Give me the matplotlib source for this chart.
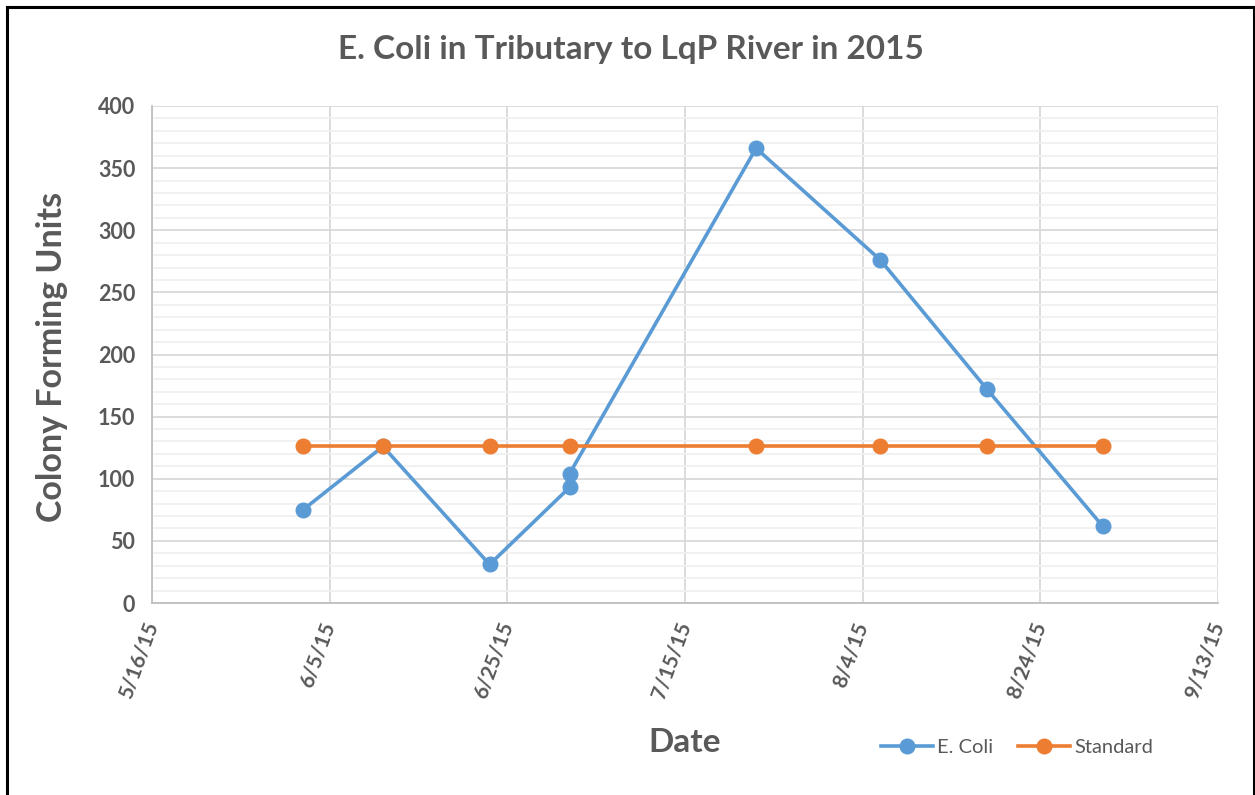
import matplotlib
matplotlib.use("Agg")
import matplotlib.pyplot as plt
from matplotlib.lines import Line2D
from matplotlib.ticker import MultipleLocator
import datetime as dt

# Sampling dates and measurements
sample_dates = ["2015-06-02", "2015-06-11", "2015-06-23", "2015-07-02", "2015-07-02",
                "2015-07-23", "2015-08-06", "2015-08-18", "2015-08-31"]
ecoli_cfu = [75, 126, 31, 93, 104, 366, 276, 172, 62]

standard_dates = ["2015-06-02", "2015-06-11", "2015-06-23", "2015-07-02",
                  "2015-07-23", "2015-08-06", "2015-08-18", "2015-08-31"]
standard_cfu = [126, 126, 126, 126, 126, 126, 126, 126]

tick_dates = ["2015-05-16", "2015-06-05", "2015-06-25", "2015-07-15",
              "2015-08-04", "2015-08-24", "2015-09-13"]
tick_labels = ["5/16/15", "6/5/15", "6/25/15", "7/15/15", "8/4/15", "8/24/15", "9/13/15"]

def to_dt(s):
    return dt.datetime.strptime(s, "%Y-%m-%d")

ecoli_x = [to_dt(d) for d in sample_dates]
std_x = [to_dt(d) for d in standard_dates]
ticks_x = [to_dt(d) for d in tick_dates]

plt.rcParams["font.family"] = ["Lato", "DejaVu Sans"]
TEXT = "#595959"
BLUE = "#5B9BD5"
ORANGE = "#ED7D31"

fig = plt.figure(figsize=(12.55, 7.95), dpi=100)
ax = fig.add_axes([152 / 1255, 1 - 603 / 795, (1218 - 152) / 1255, (603 - 106) / 795])

# Outer chart frame
fig.add_artist(Line2D([7 / 1255, 7 / 1255], [0, 1 - 7 / 795], transform=fig.transFigure,
                      color="black", lw=2.2))
fig.add_artist(Line2D([7 / 1255, 1254 / 1255], [1 - 7 / 795, 1 - 7 / 795], transform=fig.transFigure,
                      color="black", lw=2.2))
fig.add_artist(Line2D([1254 / 1255, 1254 / 1255], [0, 1 - 7 / 795], transform=fig.transFigure,
                      color="black", lw=2.2))

ax.plot(ecoli_x, ecoli_cfu, color=BLUE, lw=2.6, marker="o", ms=10.5, label="E. Coli", zorder=3)
ax.plot(std_x, standard_cfu, color=ORANGE, lw=2.6, marker="o", ms=10.5, label="Standard", zorder=4)

ax.set_xlim(ticks_x[0], ticks_x[-1])
ax.set_ylim(0, 400)
ax.set_xticks(ticks_x)
ax.set_xticklabels(tick_labels)
ax.yaxis.set_major_locator(MultipleLocator(50))
ax.yaxis.set_minor_locator(MultipleLocator(10))

ax.grid(True, which="major", color="#d9d9d9", lw=1.3, zorder=0)
ax.grid(True, which="minor", axis="y", color="#f0f0f0", lw=1.3, zorder=0)
ax.set_axisbelow(True)

for side in ["top", "right"]:
    ax.spines[side].set_visible(False)
for side in ["left", "bottom"]:
    ax.spines[side].set_color("#bfbfbf")
    ax.spines[side].set_linewidth(1.3)

ax.tick_params(axis="both", which="both", length=0, colors=TEXT)
ax.tick_params(axis="y", pad=12)
for lbl in ax.get_yticklabels():
    lbl.set_fontsize(15.5)
    lbl.set_fontweight("bold")
for lbl in ax.get_xticklabels():
    lbl.set_fontsize(15)
    lbl.set_fontweight("bold")
    lbl.set_rotation(70)
    lbl.set_rotation_mode("anchor")
    lbl.set_ha("right")
    lbl.set_va("center")
ax.tick_params(axis="x", pad=14)

fig.text(0.503, 1 - 50 / 795, "E. Coli in Tributary to LqP River in 2015", ha="center", va="center",
         fontsize=24, fontweight="bold", color=TEXT)
fig.text(52 / 1255, 1 - 357 / 795, "Colony Forming Units", rotation=90, ha="center", va="center",
         fontsize=24.5, fontweight="bold", color=TEXT)
fig.text(685 / 1255, 1 - 743 / 795, "Date", ha="center", va="center",
         fontsize=24, fontweight="bold", color=TEXT)

leg = fig.legend(handles=ax.get_lines(), loc="center", bbox_to_anchor=(1017 / 1255, 1 - 747 / 795),
                 ncol=2, frameon=False, fontsize=14.5, handlelength=2.6, columnspacing=1.2,
                 handletextpad=0.2)
for t in leg.get_texts():
    t.set_color(TEXT)

fig.savefig("out.png", dpi=100)
